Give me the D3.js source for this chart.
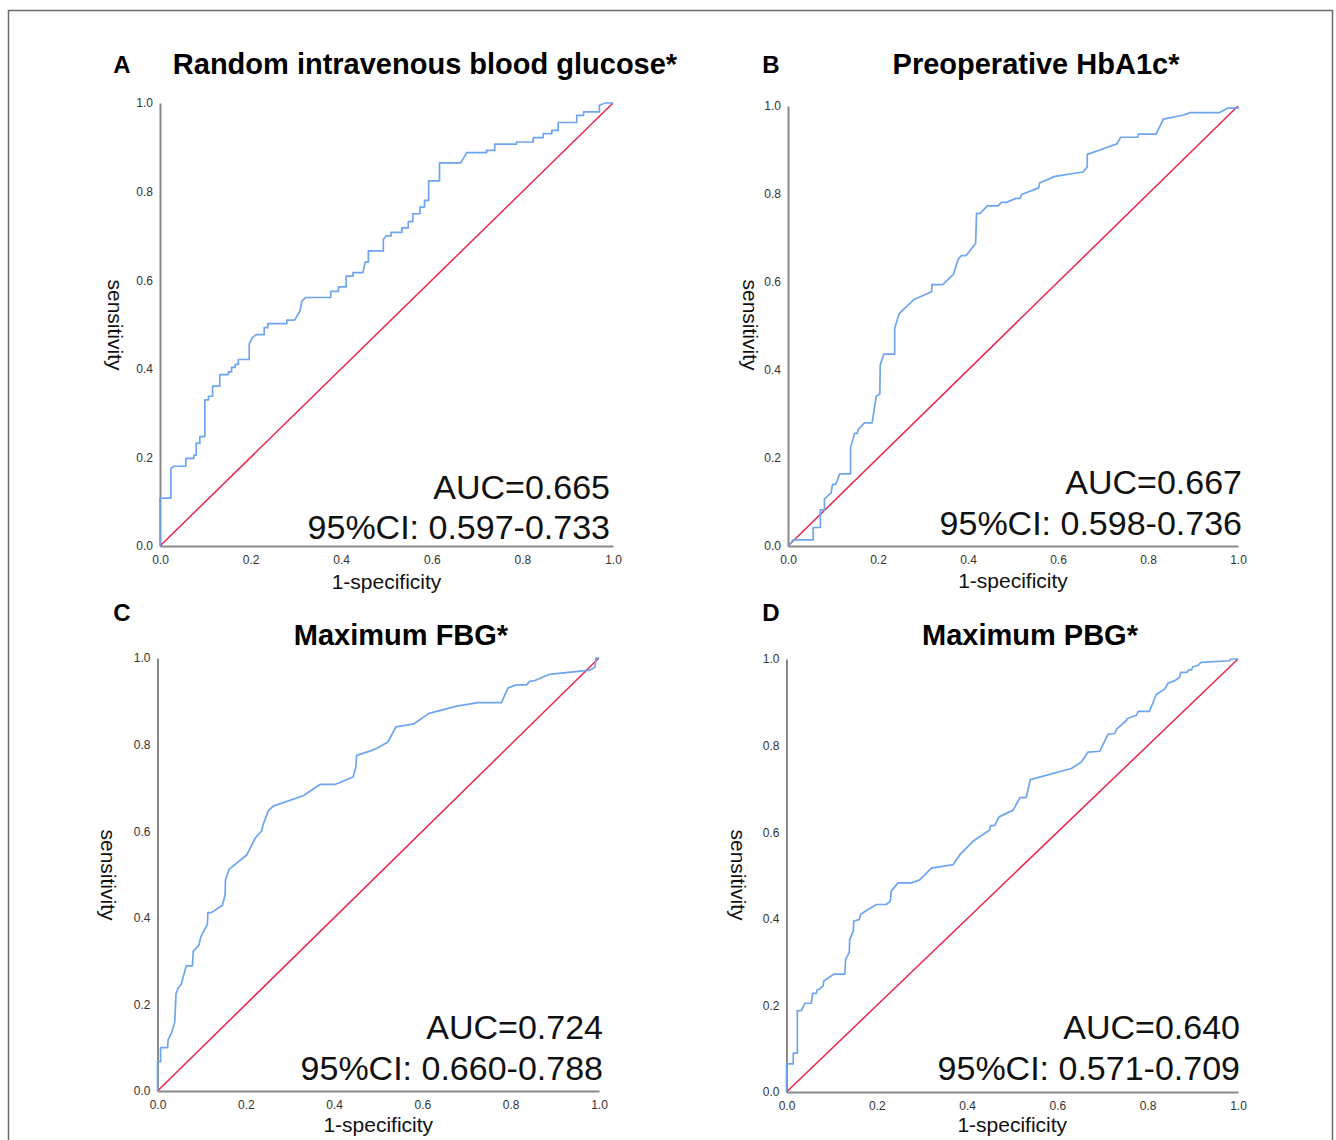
<!DOCTYPE html>
<html>
<head>
<meta charset="utf-8">
<script src="https://cdn.jsdelivr.net/npm/d3@7"></script>
<style>
  html, body { margin: 0; padding: 0; background: #fff; }
  svg { display: block; }
  text { font-family: "Liberation Sans", Arial, sans-serif; }
</style>
</head>
<body>
<svg id="chart" width="1336" height="1140"></svg>
<script>
// ---------------- DATA ----------------
const panelLetters = ["A", "B", "C", "D"];
const panelTitles = ["Random intravenous blood glucose*", "Preoperative HbA1c*", "Maximum FBG*", "Maximum PBG*"];
const aucLabels = ["AUC=0.665", "AUC=0.667", "AUC=0.724", "AUC=0.640"];
const ciLabels = ["95%CI: 0.597-0.733", "95%CI: 0.598-0.736", "95%CI: 0.660-0.788", "95%CI: 0.571-0.709"];
const tickValues = [0, 0.2, 0.4, 0.6, 0.8, 1.0];
const xAxisTitle = "1-specificity";
const yAxisTitle = "sensitivity";
const refLine = [[0, 0], [1, 1]];

// [1-specificity, sensitivity]
const rocA = [[0,0],[0,0.108],[0.024,0.108],[0.024,0.175],[0.031,0.18],[0.057,0.18],[0.057,0.198],[0.075,0.198],[0.075,0.205],[0.08,0.205],[0.08,0.232],[0.088,0.232],[0.088,0.247],[0.099,0.247],[0.099,0.33],[0.107,0.33],[0.107,0.338],[0.116,0.338],[0.116,0.361],[0.132,0.361],[0.132,0.387],[0.151,0.387],[0.151,0.393],[0.158,0.393],[0.158,0.403],[0.166,0.403],[0.166,0.41],[0.173,0.41],[0.173,0.421],[0.197,0.421],[0.197,0.456],[0.204,0.471],[0.213,0.477],[0.23,0.477],[0.23,0.493],[0.238,0.493],[0.238,0.502],[0.28,0.502],[0.28,0.51],[0.297,0.51],[0.309,0.53],[0.313,0.553],[0.322,0.561],[0.377,0.561],[0.377,0.575],[0.394,0.575],[0.394,0.585],[0.411,0.585],[0.411,0.609],[0.426,0.609],[0.426,0.617],[0.448,0.617],[0.453,0.641],[0.46,0.641],[0.46,0.666],[0.493,0.666],[0.493,0.692],[0.499,0.7],[0.51,0.7],[0.51,0.708],[0.534,0.708],[0.534,0.718],[0.548,0.718],[0.548,0.732],[0.558,0.732],[0.558,0.75],[0.574,0.75],[0.574,0.765],[0.584,0.765],[0.584,0.78],[0.593,0.78],[0.593,0.824],[0.617,0.824],[0.617,0.865],[0.664,0.865],[0.677,0.888],[0.721,0.888],[0.721,0.893],[0.739,0.893],[0.739,0.907],[0.787,0.907],[0.787,0.912],[0.824,0.912],[0.824,0.922],[0.846,0.922],[0.846,0.931],[0.865,0.931],[0.865,0.938],[0.879,0.938],[0.879,0.956],[0.92,0.956],[0.92,0.972],[0.935,0.972],[0.935,0.98],[0.97,0.98],[0.97,0.995],[0.983,1],[1,1]];

const rocB = [[0,0],[0.007,0.007],[0.011,0.014],[0.056,0.014],[0.056,0.042],[0.072,0.042],[0.072,0.082],[0.081,0.082],[0.081,0.107],[0.096,0.121],[0.099,0.14],[0.106,0.14],[0.115,0.164],[0.139,0.164],[0.139,0.223],[0.148,0.256],[0.154,0.256],[0.156,0.265],[0.17,0.28],[0.187,0.28],[0.196,0.34],[0.204,0.346],[0.205,0.412],[0.213,0.436],[0.237,0.436],[0.237,0.495],[0.247,0.528],[0.281,0.561],[0.319,0.578],[0.32,0.594],[0.344,0.594],[0.368,0.618],[0.378,0.651],[0.385,0.66],[0.396,0.66],[0.417,0.688],[0.419,0.756],[0.427,0.756],[0.443,0.773],[0.467,0.773],[0.474,0.781],[0.485,0.781],[0.507,0.79],[0.516,0.79],[0.519,0.799],[0.557,0.814],[0.559,0.825],[0.593,0.84],[0.656,0.85],[0.665,0.862],[0.665,0.89],[0.693,0.9],[0.731,0.914],[0.739,0.929],[0.777,0.929],[0.779,0.936],[0.818,0.936],[0.834,0.97],[0.877,0.979],[0.894,0.985],[0.959,0.985],[0.977,0.995],[1,0.995],[1,1]];

const rocC = [[0,0],[0,0.068],[0.007,0.068],[0.007,0.1],[0.023,0.1],[0.024,0.118],[0.032,0.135],[0.039,0.158],[0.042,0.225],[0.047,0.238],[0.054,0.247],[0.065,0.289],[0.079,0.289],[0.081,0.323],[0.094,0.337],[0.098,0.356],[0.113,0.385],[0.114,0.412],[0.122,0.412],[0.147,0.429],[0.153,0.452],[0.154,0.487],[0.162,0.512],[0.202,0.545],[0.222,0.585],[0.236,0.601],[0.239,0.614],[0.251,0.647],[0.262,0.658],[0.33,0.682],[0.368,0.708],[0.402,0.708],[0.443,0.725],[0.449,0.747],[0.451,0.775],[0.481,0.785],[0.496,0.791],[0.522,0.806],[0.54,0.841],[0.581,0.848],[0.615,0.872],[0.678,0.889],[0.726,0.897],[0.779,0.897],[0.794,0.931],[0.813,0.938],[0.836,0.938],[0.843,0.946],[0.855,0.948],[0.887,0.962],[0.98,0.972],[0.991,0.979],[0.993,1],[1,1]];

const rocD = [[0,0],[0,0.065],[0.015,0.065],[0.015,0.09],[0.024,0.09],[0.024,0.188],[0.033,0.188],[0.041,0.205],[0.055,0.205],[0.058,0.228],[0.066,0.228],[0.068,0.236],[0.074,0.238],[0.081,0.245],[0.083,0.257],[0.105,0.272],[0.129,0.272],[0.131,0.307],[0.139,0.322],[0.14,0.352],[0.148,0.372],[0.149,0.395],[0.161,0.398],[0.164,0.41],[0.177,0.419],[0.199,0.433],[0.221,0.433],[0.23,0.441],[0.232,0.464],[0.247,0.483],[0.277,0.483],[0.295,0.49],[0.321,0.517],[0.369,0.525],[0.384,0.548],[0.413,0.579],[0.45,0.605],[0.452,0.615],[0.461,0.615],[0.469,0.632],[0.472,0.636],[0.502,0.651],[0.517,0.68],[0.531,0.68],[0.54,0.722],[0.542,0.722],[0.631,0.747],[0.653,0.762],[0.668,0.785],[0.694,0.787],[0.712,0.826],[0.727,0.828],[0.731,0.838],[0.753,0.858],[0.754,0.862],[0.775,0.87],[0.779,0.879],[0.804,0.879],[0.819,0.918],[0.838,0.931],[0.845,0.944],[0.86,0.95],[0.871,0.958],[0.873,0.969],[0.887,0.969],[0.891,0.975],[0.897,0.975],[0.9,0.982],[0.911,0.985],[0.918,0.992],[0.981,0.996],[0.985,1],[1,1]];

const rocSeries = [rocA, rocB, rocC, rocD];

// ---------------- LAYOUT ----------------
const layout = [
  { x0: 160,   x1: 613,   yTop: 103, yBot: 546,  letterX: 122, letterY: 73,  titleX: 425,  titleY: 74,  labX: 115, labY: 325, aucRight: 610,  aucY: 499,  ciY: 539,  xTitleY: 589 },
  { x0: 788,   x1: 1238,  yTop: 106, yBot: 546,  letterX: 771, letterY: 73,  titleX: 1036, titleY: 74,  labX: 750, labY: 325, aucRight: 1242, aucY: 494,  ciY: 535,  xTitleY: 588 },
  { x0: 157.5, x1: 599,   yTop: 658, yBot: 1091, letterX: 122, letterY: 621, titleX: 401,  titleY: 645, labX: 108, labY: 875, aucRight: 603,  aucY: 1039, ciY: 1080, xTitleY: 1132 },
  { x0: 786.5, x1: 1238,  yTop: 659, yBot: 1092, letterX: 771, letterY: 621, titleX: 1030, titleY: 645, labX: 738, labY: 875, aucRight: 1240, aucY: 1039, ciY: 1080, xTitleY: 1132 }
];

const svg = d3.select("#chart");

// outer frame
svg.append("rect")
  .attr("x", 8.5).attr("y", 10.5)
  .attr("width", 1324).attr("height", 1150)
  .attr("fill", "none").attr("stroke", "#6b6b6b").attr("stroke-width", 1.5);

const fmt = d3.format(".1f");

layout.forEach((L, i) => {
  const x = d3.scaleLinear().domain([0, 1]).range([L.x0, L.x1]);
  const y = d3.scaleLinear().domain([0, 1]).range([L.yBot, L.yTop]);
  const g = svg.append("g");

  // axes
  const xAxis = g.append("g").attr("transform", `translate(0,${L.yBot})`)
    .call(d3.axisBottom(x).tickValues(tickValues).tickFormat(fmt).tickSize(0).tickPadding(9));
  const yAxis = g.append("g").attr("transform", `translate(${L.x0},0)`)
    .call(d3.axisLeft(y).tickValues(tickValues).tickFormat(fmt).tickSize(0).tickPadding(7));
  [xAxis, yAxis].forEach(a => {
    a.select(".domain").attr("stroke", "#8a8a8a").attr("stroke-width", 2);
    a.selectAll("text").attr("font-size", 12).attr("fill", "#333")
      .attr("font-family", "'Liberation Sans', Arial, sans-serif");
  });

  // reference diagonal
  const line = d3.line().x(d => x(d[0])).y(d => y(d[1]));
  g.append("path").datum(refLine).attr("d", line)
    .attr("fill", "none").attr("stroke", "#e8264c").attr("stroke-width", 1.5);

  // ROC curve
  g.append("path").datum(rocSeries[i]).attr("d", line)
    .attr("fill", "none").attr("stroke", "#6ea5ef").attr("stroke-width", 1.7)
    .attr("stroke-linejoin", "round");

  // axis titles
  g.append("text").attr("x", (L.x0 + L.x1) / 2).attr("y", L.xTitleY)
    .attr("text-anchor", "middle").attr("font-size", 21).attr("fill", "#111")
    .text(xAxisTitle);
  g.append("text").attr("transform", `translate(${L.labX},${L.labY}) rotate(90)`)
    .attr("text-anchor", "middle").attr("dy", "0.35em")
    .attr("font-size", 21).attr("fill", "#111")
    .text(yAxisTitle);

  // AUC annotations
  g.append("text").attr("x", L.aucRight).attr("y", L.aucY)
    .attr("text-anchor", "end").attr("font-size", 34).attr("fill", "#111")
    .text(aucLabels[i]);
  g.append("text").attr("x", L.aucRight).attr("y", L.ciY)
    .attr("text-anchor", "end").attr("font-size", 34).attr("fill", "#111")
    .text(ciLabels[i]);

  // panel letter and title
  g.append("text").attr("x", L.letterX).attr("y", L.letterY)
    .attr("text-anchor", "middle").attr("font-size", 24).attr("font-weight", "bold").attr("fill", "#000")
    .text(panelLetters[i]);
  g.append("text").attr("x", L.titleX).attr("y", L.titleY)
    .attr("text-anchor", "middle").attr("font-size", 29).attr("font-weight", "bold").attr("fill", "#000")
    .text(panelTitles[i]);
});
</script>
</body>
</html>
